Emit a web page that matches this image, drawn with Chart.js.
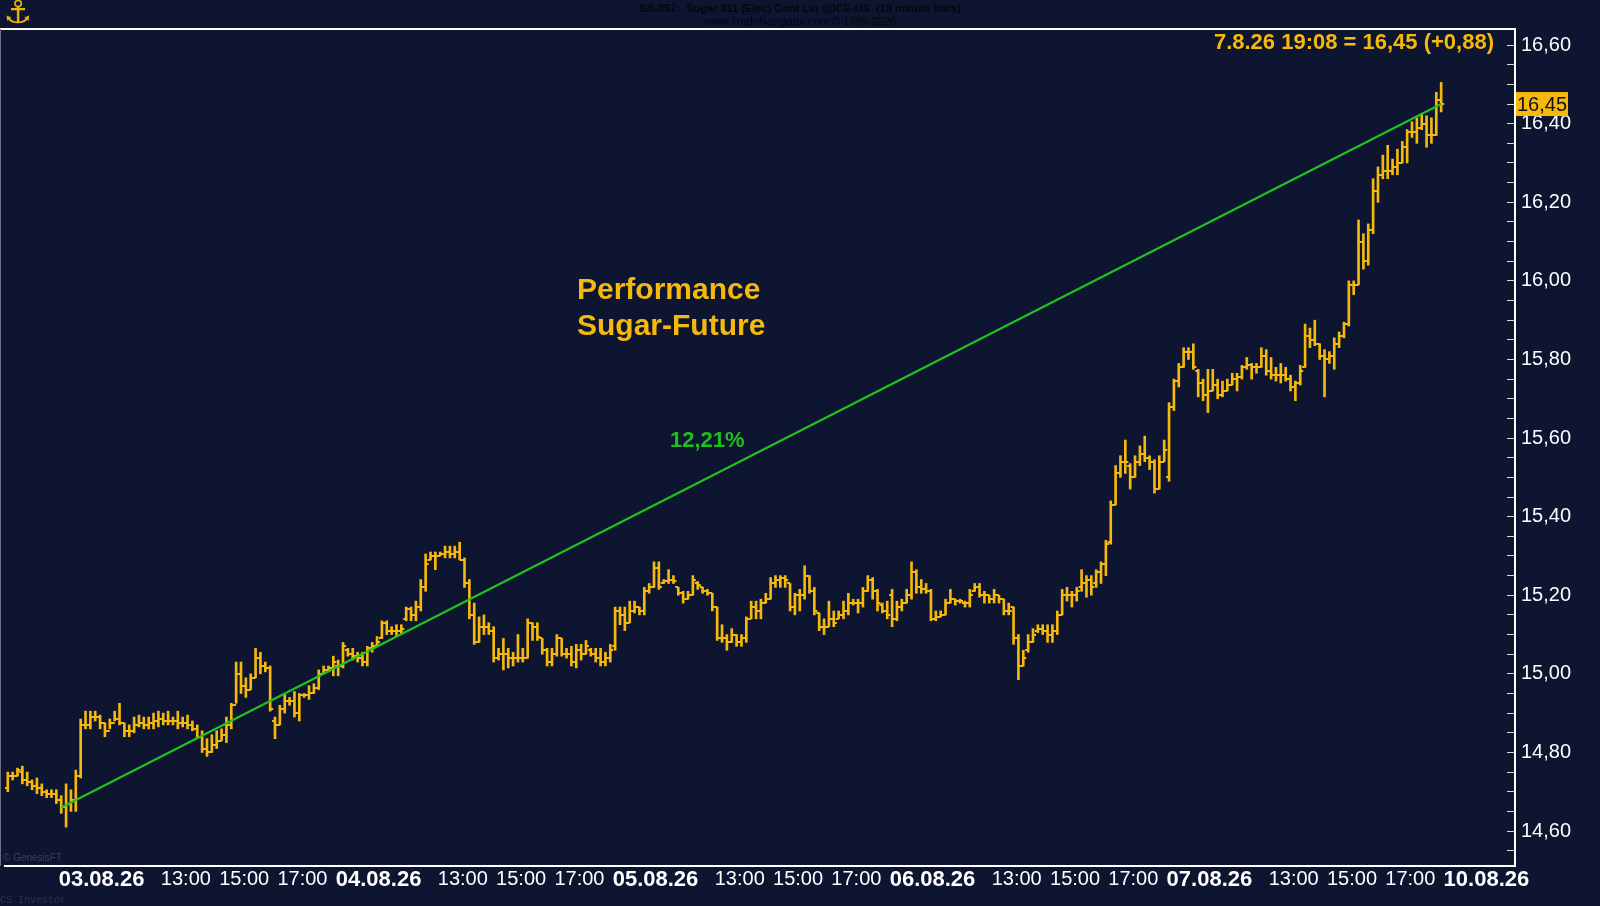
<!DOCTYPE html>
<html>
<head>
<meta charset="utf-8">
<title>Sugar #11 - 10 minute bars</title>
<script src="https://cdn.jsdelivr.net/npm/chart.js@4.4.1/dist/chart.umd.min.js"></script>
<style>
    html, body { margin: 0; padding: 0; background: #0d1530; }
    #wrap { width: 1600px; height: 906px; position: relative; }
</style>
</head>
<body>
<div id="wrap"><canvas id="chart"></canvas></div>
<script>
// 10 minute bars, rows are [open, high, low, close]
const bars3107 = [
    [14.71,14.75,14.70,14.74],[14.74,14.75,14.73,14.74],[14.74,14.76,14.74,14.755],[14.75,14.765,14.72,14.73],
    [14.73,14.75,14.715,14.725],[14.725,14.73,14.705,14.715],[14.715,14.735,14.695,14.71],[14.71,14.72,14.69,14.70],
    [14.70,14.705,14.685,14.695],[14.695,14.705,14.685,14.695],[14.695,14.705,14.67,14.68]
];
const bars0308 = [
    [14.68,14.69,14.645,14.66],[14.66,14.72,14.61,14.67],[14.67,14.705,14.65,14.68],[14.68,14.755,14.65,14.74],
    [14.74,14.885,14.735,14.87],[14.87,14.905,14.86,14.87],[14.87,14.905,14.86,14.89],[14.89,14.905,14.88,14.89],
    [14.89,14.895,14.86,14.875],[14.875,14.875,14.84,14.855],[14.855,14.885,14.86,14.875],[14.875,14.905,14.88,14.885],
    [14.885,14.925,14.87,14.875],[14.875,14.875,14.84,14.855],[14.855,14.87,14.84,14.855],[14.855,14.89,14.85,14.87],
    [14.87,14.895,14.865,14.875],[14.875,14.89,14.86,14.87],[14.87,14.89,14.86,14.875],[14.875,14.90,14.86,14.88],
    [14.88,14.905,14.865,14.885],[14.885,14.90,14.87,14.88],[14.88,14.905,14.87,14.88],[14.88,14.89,14.87,14.88],
    [14.88,14.905,14.86,14.875],[14.875,14.89,14.865,14.875],[14.875,14.895,14.86,14.87],[14.87,14.88,14.855,14.86],
    [14.86,14.87,14.835,14.84],[14.84,14.855,14.80,14.81],[14.81,14.835,14.79,14.80],[14.80,14.845,14.80,14.82],
    [14.82,14.855,14.81,14.83],[14.83,14.86,14.83,14.845],[14.845,14.89,14.825,14.87],[14.87,14.925,14.86,14.92],
    [14.92,15.03,14.925,15.00],[15.00,15.03,14.95,14.97],[14.97,14.99,14.94,14.96],[14.96,15.00,14.96,14.99],
    [14.99,15.065,14.99,15.04],[15.04,15.055,15.00,15.02],[15.02,15.03,15.005,15.015],[15.015,15.02,14.905,14.91],
    [14.88,14.89,14.835,14.87],[14.87,14.92,14.87,14.91],[14.91,14.95,14.90,14.93],[14.93,14.94,14.92,14.93],
    [14.93,14.955,14.89,14.90],[14.90,14.95,14.88,14.945],[14.945,14.95,14.94,14.945],[14.945,14.97,14.935,14.95],
    [14.95,14.975,14.95,14.965],[14.965,15.01,14.96,15.00],[15.00,15.02,15.00,15.01],[15.01,15.02,15.005,15.015],
    [15.015,15.045,14.995,15.03]
];
const bars0408 = [
    [15.02,15.035,14.995,15.02],[15.02,15.08,15.015,15.07],[15.06,15.065,15.045,15.05],[15.05,15.065,15.035,15.045],
    [15.045,15.055,15.03,15.04],[15.04,15.055,15.02,15.03],[15.03,15.07,15.02,15.065],[15.065,15.08,15.055,15.07],
    [15.07,15.095,15.07,15.08],[15.09,15.135,15.09,15.13],[15.13,15.135,15.10,15.11],[15.11,15.12,15.10,15.11],
    [15.11,15.125,15.095,15.11],[15.11,15.125,15.10,15.115],[15.14,15.17,15.135,15.165],[15.165,15.17,15.135,15.15],
    [15.15,15.185,15.135,15.17],[15.17,15.24,15.16,15.22],[15.22,15.305,15.21,15.28],[15.29,15.31,15.29,15.30],
    [15.30,15.31,15.265,15.30],[15.30,15.31,15.30,15.305],[15.305,15.325,15.295,15.31],[15.31,15.325,15.295,15.305],
    [15.305,15.325,15.295,15.31],[15.31,15.335,15.29,15.29],[15.29,15.295,15.22,15.23],[15.23,15.24,15.14,15.15],
    [15.15,15.18,15.075,15.08],[15.08,15.145,15.08,15.12],[15.12,15.15,15.10,15.12],[15.12,15.13,15.10,15.11],
    [15.11,15.12,15.03,15.04],[15.04,15.065,15.035,15.05],[15.05,15.09,15.01,15.05],[15.05,15.065,15.015,15.04],
    [15.04,15.055,15.02,15.04],[15.04,15.10,15.03,15.04],[15.04,15.065,15.03,15.04],[15.04,15.14,15.04,15.13],
    [15.13,15.13,15.085,15.12],[15.12,15.13,15.085,15.095],[15.09,15.09,15.05,15.06],[15.06,15.065,15.02,15.03],
    [15.03,15.065,15.02,15.05],[15.05,15.10,15.045,15.09],[15.09,15.09,15.045,15.05],[15.05,15.065,15.04,15.05],
    [15.05,15.07,15.02,15.03],[15.03,15.075,15.015,15.06],[15.06,15.075,15.035,15.05],[15.05,15.085,15.05,15.07],
    [15.06,15.065,15.045,15.05],[15.05,15.065,15.03,15.04],[15.04,15.065,15.02,15.03],[15.03,15.055,15.02,15.04],
    [15.04,15.075,15.03,15.06]
];
const bars0508 = [
    [15.07,15.17,15.06,15.16],[15.16,15.17,15.125,15.15],[15.15,15.17,15.11,15.13],[15.13,15.185,15.13,15.16],
    [15.16,15.185,15.155,15.17],[15.17,15.17,15.15,15.16],[15.16,15.22,15.15,15.21],[15.21,15.23,15.205,15.22],
    [15.22,15.285,15.22,15.27],[15.27,15.285,15.215,15.22],[15.23,15.24,15.23,15.235],[15.235,15.265,15.23,15.24],
    [15.24,15.25,15.23,15.235],[15.22,15.22,15.20,15.205],[15.205,15.21,15.18,15.19],[15.19,15.21,15.19,15.20],
    [15.20,15.25,15.20,15.24],[15.23,15.235,15.215,15.225],[15.22,15.22,15.205,15.21],[15.21,15.215,15.20,15.205],
    [15.205,15.205,15.16,15.17],[15.17,15.17,15.085,15.09],[15.09,15.125,15.08,15.09],[15.09,15.10,15.06,15.08],
    [15.08,15.115,15.08,15.10],[15.10,15.10,15.07,15.08],[15.08,15.10,15.07,15.09],[15.09,15.145,15.08,15.14],
    [15.14,15.185,15.14,15.17],[15.17,15.185,15.14,15.16],[15.16,15.19,15.14,15.18],[15.18,15.205,15.18,15.19],
    [15.19,15.245,15.19,15.23],[15.23,15.25,15.22,15.24],[15.24,15.25,15.22,15.245],[15.245,15.25,15.22,15.24],
    [15.23,15.23,15.16,15.17],[15.17,15.205,15.15,15.20],[15.20,15.215,15.16,15.20],[15.20,15.275,15.19,15.25],
    [15.25,15.25,15.205,15.21],[15.21,15.22,15.15,15.16],[15.155,15.155,15.11,15.12],[15.12,15.14,15.10,15.12],
    [15.12,15.185,15.12,15.14],[15.14,15.16,15.12,15.13],[15.14,15.16,15.14,15.15],[15.15,15.185,15.14,15.16],
    [15.16,15.205,15.15,15.18],[15.18,15.19,15.175,15.18],[15.18,15.19,15.155,15.18],[15.18,15.22,15.17,15.21],
    [15.21,15.25,15.21,15.24],[15.24,15.245,15.19,15.21],[15.21,15.215,15.16,15.18],[15.175,15.18,15.155,15.16],
    [15.16,15.185,15.14,15.15]
];
const bars0608 = [
    [15.20,15.215,15.12,15.14],[15.14,15.185,15.135,15.17],[15.17,15.19,15.16,15.18],[15.18,15.215,15.18,15.20],
    [15.20,15.285,15.19,15.26],[15.26,15.265,15.205,15.22],[15.22,15.24,15.205,15.215],[15.215,15.23,15.205,15.21],
    [15.21,15.215,15.135,15.14],[15.14,15.16,15.135,15.145],[15.145,15.16,15.145,15.15],[15.15,15.19,15.15,15.18],
    [15.18,15.215,15.18,15.19],[15.19,15.19,15.175,15.185],[15.185,15.19,15.18,15.185],[15.18,15.185,15.17,15.18],
    [15.18,15.215,15.17,15.20],[15.21,15.23,15.21,15.22],[15.22,15.23,15.195,15.20],[15.20,15.21,15.18,15.20],
    [15.20,15.20,15.18,15.19],[15.19,15.215,15.18,15.20],[15.20,15.20,15.18,15.19],[15.19,15.19,15.15,15.16],
    [15.16,15.18,15.15,15.16],[15.17,15.17,15.075,15.09],[15.09,15.10,14.985,15.02],[15.02,15.06,15.02,15.04],
    [15.06,15.10,15.055,15.08],[15.08,15.115,15.08,15.10],[15.11,15.125,15.105,15.115],[15.115,15.125,15.10,15.11],
    [15.11,15.125,15.08,15.10],[15.10,15.125,15.08,15.11],[15.11,15.16,15.10,15.15],[15.15,15.215,15.15,15.20],
    [15.20,15.22,15.185,15.20],[15.20,15.21,15.17,15.20],[15.20,15.22,15.185,15.21],[15.22,15.265,15.21,15.23],
    [15.23,15.25,15.195,15.24],[15.24,15.25,15.20,15.22],[15.23,15.265,15.22,15.26],[15.26,15.285,15.23,15.28],
    [15.28,15.34,15.25,15.33],[15.335,15.44,15.33,15.43],[15.43,15.53,15.43,15.51],[15.51,15.555,15.50,15.54],
    [15.54,15.595,15.51,15.54],[15.53,15.535,15.47,15.50],[15.50,15.555,15.50,15.54],[15.54,15.58,15.53,15.56],
    [15.56,15.605,15.54,15.55],[15.55,15.555,15.52,15.54],[15.54,15.545,15.46,15.47],[15.47,15.555,15.47,15.54],
    [15.54,15.595,15.54,15.57]
];
const bars0708 = [
    [15.50,15.69,15.49,15.68],[15.68,15.75,15.67,15.745],[15.745,15.79,15.73,15.78],[15.78,15.83,15.78,15.82],
    [15.82,15.83,15.80,15.82],[15.82,15.84,15.775,15.78],[15.77,15.775,15.705,15.74],[15.74,15.75,15.695,15.71],
    [15.71,15.775,15.665,15.72],[15.72,15.775,15.72,15.735],[15.735,15.75,15.70,15.71],[15.71,15.745,15.705,15.72],
    [15.72,15.75,15.72,15.735],[15.735,15.765,15.735,15.75],[15.75,15.765,15.72,15.755],[15.755,15.785,15.75,15.78],
    [15.78,15.805,15.775,15.785],[15.785,15.79,15.75,15.78],[15.78,15.79,15.765,15.78],[15.78,15.83,15.78,15.81],
    [15.81,15.825,15.76,15.77],[15.77,15.805,15.75,15.76],[15.76,15.78,15.745,15.76],[15.76,15.79,15.74,15.76],
    [15.76,15.78,15.745,15.75],[15.75,15.76,15.72,15.73],[15.73,15.745,15.695,15.74],[15.74,15.785,15.735,15.77],
    [15.78,15.89,15.78,15.86],[15.86,15.88,15.83,15.85],[15.85,15.90,15.835,15.84],[15.84,15.84,15.80,15.81],
    [15.81,15.825,15.705,15.80],[15.80,15.82,15.79,15.81],[15.81,15.855,15.775,15.84],[15.84,15.87,15.83,15.86],
    [15.86,15.895,15.855,15.89],[15.89,16.00,15.885,15.99],[15.99,16.00,15.965,15.99],[15.99,16.155,15.99,16.10],
    [16.10,16.12,16.03,16.05],[16.05,16.145,16.04,16.13],[16.13,16.26,16.12,16.23],[16.23,16.29,16.20,16.27],
    [16.27,16.32,16.26,16.28],[16.28,16.345,16.26,16.28],[16.28,16.31,16.27,16.29],[16.29,16.335,16.27,16.30],
    [16.30,16.355,16.30,16.34],[16.34,16.385,16.30,16.38],[16.38,16.405,16.365,16.38],[16.38,16.415,16.35,16.39],
    [16.39,16.425,16.385,16.40],[16.40,16.42,16.34,16.37],[16.37,16.415,16.35,16.37],[16.37,16.48,16.37,16.46],
    [16.46,16.505,16.43,16.45]
];

// x axis: bar index, 0 = first bar of 03.08.26; labels start at their tick
const tickPositions = [-0.5, 20.5, 32.5, 44.5, 56.5, 77.5, 89.5, 101.5, 113.5, 134.5, 146.5, 158.5,
    170.5, 191.5, 203.5, 215.5, 227.5, 248.5, 260.5, 272.5, 284.5];
const tickLabels = ['03.08.26', '13:00', '15:00', '17:00', '04.08.26', '13:00', '15:00', '17:00',
    '05.08.26', '13:00', '15:00', '17:00', '06.08.26', '13:00', '15:00', '17:00',
    '07.08.26', '13:00', '15:00', '17:00', '10.08.26'];

// performance line from the 03.08 low to the last price
const perfIndex = [0, 284];
const perfValue = [14.66, 16.45];
const lastPrice = 16.45;
const lastStamp = '7.8.26 19:08';
const lastChange = 0.88;

const BAR_COLOR = '#f5b80c';
const BG = '#0d1530';

const allBars = [].concat(bars3107, bars0308, bars0408, bars0508, bars0608, bars0708);
const firstIndex = -bars3107.length;
const rangeData = allBars.map((b, k) => ({ x: firstIndex + k, y: [b[2], b[1]] }));
const openData = allBars.map((b, k) => ({ x: firstIndex + k, y: b[0] }));
const closeData = allBars.map((b, k) => ({ x: firstIndex + k, y: b[3] }));

function comma(v) { return v.toFixed(2).replace('.', ','); }

function tickImage(side) {
    const c = document.createElement('canvas');
    c.width = 8;
    c.height = 2;
    const g = c.getContext('2d');
    g.fillStyle = BAR_COLOR;
    g.fillRect(side === 'left' ? 1 : 4, 0, 3, 2);
    return c;
}

const decor = {
    id: 'decor',
    beforeDraw(chart) {
        const ctx = chart.ctx;
        ctx.save();
        ctx.fillStyle = BG;
        ctx.fillRect(0, 0, chart.width, chart.height);
        ctx.restore();
    },
    afterDraw(chart) {
        const ctx = chart.ctx;
        const area = chart.chartArea;
        const y = chart.scales.y;
        ctx.save();

        // frame: top white line, faint left edge
        ctx.fillStyle = '#ffffff';
        ctx.fillRect(0, area.top - 1, area.right + 1, 2);
        ctx.fillStyle = '#6d7384';
        ctx.fillRect(0, area.top, 1, area.bottom - area.top);

        // header
        ctx.fillStyle = '#05070e';
        ctx.textAlign = 'center';
        ctx.textBaseline = 'middle';
        ctx.font = 'bold 11px "Liberation Sans Narrow", "Liberation Sans", Arial';
        ctx.fillText('SB-057:  Sugar #11 (Elec) Cont Liq @ICE-US  (10 minute bars)', 800, 9);
        ctx.font = '11px "Liberation Sans Narrow", "Liberation Sans", Arial';
        ctx.fillText('www.TradeNavigator.com \u00a9 1999-2026', 800, 22);

        ctx.fillStyle = '#e8b10a';
        ctx.font = 'bold 32px "DejaVu Sans"';
        ctx.fillText('\u2693', 18, 15);

        // last quote
        ctx.fillStyle = BAR_COLOR;
        ctx.textAlign = 'right';
        ctx.font = 'bold 22px "Liberation Sans", Arial';
        ctx.fillText(lastStamp + ' = ' + comma(lastPrice) + ' (+' + comma(lastChange) + ')', 1494, 43);

        // title
        ctx.textAlign = 'left';
        ctx.font = 'bold 30px "Liberation Sans", Arial';
        ctx.fillText('Performance', 577, 291);
        ctx.fillText('Sugar-Future', 577, 327);

        ctx.fillStyle = '#1fbf1f';
        ctx.font = 'bold 22px "Liberation Sans", Arial';
        ctx.fillText('12,21%', 670, 441);

        // price marker on the axis
        const py = y.getPixelForValue(lastPrice);
        ctx.fillStyle = BAR_COLOR;
        ctx.fillRect(area.right + 1, py - 12, 52, 24);
        ctx.fillStyle = '#10131c';
        ctx.font = '20px "Liberation Sans", Arial';
        ctx.fillText(comma(lastPrice), area.right + 2, py + 1);

        // credits
        ctx.fillStyle = '#3b4152';
        ctx.font = '10px "Liberation Sans Narrow", "Liberation Sans", Arial';
        ctx.fillText('\u00a9 GenesisFT', 3, area.bottom - 8);
        ctx.fillStyle = '#2f3546';
        ctx.font = '10px "Liberation Mono", monospace';
        ctx.fillText('CS Investor', 0, 900);
        ctx.restore();
    }
};

new Chart(document.getElementById('chart'), {
    type: 'bar',
    data: {
        datasets: [
            {
                type: 'line',
                data: perfIndex.map((x, k) => ({ x: x, y: perfValue[k] })),
                borderColor: '#1fc21f',
                borderWidth: 2.2,
                pointRadius: 0,
                order: 0
            },
            {
                type: 'bar',
                data: rangeData,
                backgroundColor: BAR_COLOR,
                borderWidth: 0,
                barThickness: 2,
                order: 3
            },
            {
                type: 'scatter',
                data: openData,
                pointStyle: tickImage('left'),
                pointRadius: 2,
                order: 2
            },
            {
                type: 'scatter',
                data: closeData,
                pointStyle: tickImage('right'),
                pointRadius: 2,
                order: 1
            }
        ]
    },
    options: {
        responsive: true,
        maintainAspectRatio: false,
        animation: false,
        layout: { padding: { top: 29, left: 0, right: 0, bottom: 0 } },
        plugins: {
            legend: { display: false },
            tooltip: { enabled: false }
        },
        scales: {
            x: {
                type: 'linear',
                position: 'bottom',
                min: -11.57,
                max: 299.2,
                offset: false,
                grid: { display: false, drawTicks: false },
                border: { display: true, color: '#ffffff', width: 2 },
                afterBuildTicks: s => { s.ticks = tickPositions.map(v => ({ value: v })); },
                afterFit: s => { s.height = 40; },
                ticks: {
                    autoSkip: false,
                    maxRotation: 0,
                    align: 'start',
                    padding: 1,
                    color: '#ffffff',
                    callback: (v, i) => tickLabels[i],
                    font: ctx => tickLabels[ctx.index] && tickLabels[ctx.index].indexOf('.') > 0
                        ? { family: '"Liberation Sans", Arial', size: 22, weight: 'bold' }
                        : { family: '"Liberation Sans", Arial', size: 20, weight: 'normal' }
                }
            },
            y: {
                type: 'linear',
                position: 'right',
                min: 14.511,
                max: 16.641,
                grid: { display: true, drawOnChartArea: false, drawTicks: true, tickLength: -8, color: '#d8d8d8', lineWidth: 1 },
                border: { display: true, color: '#ffffff', width: 2 },
                afterBuildTicks: s => {
                    const t = [];
                    for (let c = 1455; c <= 1660; c += 5) t.push({ value: c / 100 });
                    s.ticks = t;
                },
                afterFit: s => { s.width = 85; },
                ticks: {
                    autoSkip: false,
                    padding: 14,
                    color: '#ffffff',
                    font: { family: '"Liberation Sans", Arial', size: 20 },
                    callback: v => Math.round(v * 100) % 20 === 0 ? comma(v) : ''
                }
            }
        }
    },
    plugins: [decor]
});
</script>
</body>
</html>
